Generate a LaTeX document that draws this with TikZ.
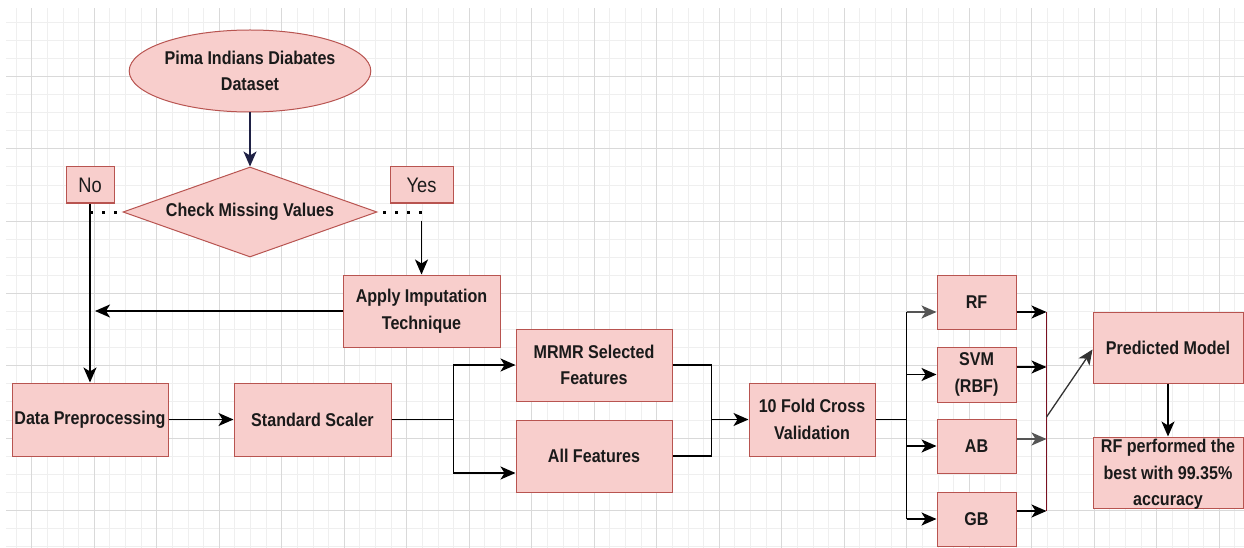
\documentclass[tikz,border=0pt]{standalone}
\usepackage{fontspec}
\setmainfont{Liberation Sans}[FakeStretch=0.87]
\usetikzlibrary{shapes.geometric,arrows.meta,calc}
\definecolor{boxfill}{HTML}{F8CECC}
\definecolor{boxline}{HTML}{B85450}
\definecolor{navyc}{HTML}{1F2145}
\definecolor{maroonc}{HTML}{7A1020}
\definecolor{gmaj}{HTML}{D9D9D9}
\definecolor{gmin}{HTML}{EFEFEF}
\definecolor{txt}{HTML}{1A1A1A}
\definecolor{greyarr}{HTML}{555555}
\begin{document}
\begin{tikzpicture}[x=1pt,y=-1pt,
  box/.style={draw=boxline,fill=boxfill,line width=1pt,inner sep=0pt,align=center,text=txt,font=\fontsize{18.5}{26.5}\selectfont\bfseries},
  lbl/.style={draw=boxline,fill=boxfill,line width=1pt,inner sep=0pt,text=txt,font=\fontsize{21}{24}\selectfont},
  arr/.style={line width=1.7pt,-{Stealth[length=15pt,width=13pt,inset=4pt]}},
  ln/.style={line width=1.7pt},
  dots/.style={line width=3pt,dash pattern=on 3pt off 9pt}]
\useasboundingbox (0,0) rectangle (1244,548);
\fill[white] (0,0) rectangle (1244,548);
% grid
\begin{scope}
\clip (6,9) rectangle (1244,548);
\foreach \k in {-2,...,78} {\draw[gmin,line width=0.8pt] ({31.7+15.625*\k},0) -- ({31.7+15.625*\k},548);}
\foreach \k in {-4,...,27} {\draw[gmin,line width=0.8pt] (0,{76.5+18.075*\k}) -- (1244,{76.5+18.075*\k});}
\foreach \k in {0,...,19} {\draw[gmaj,line width=0.9pt] ({31.7+62.5*\k},0) -- ({31.7+62.5*\k},548);}
\foreach \k in {-1,...,6} {\draw[gmaj,line width=0.9pt] (0,{76.5+72.3*\k}) -- (1244,{76.5+72.3*\k});}
\end{scope}
% nodes
\node[box,ellipse,minimum width=188pt,minimum height=82pt] (ell) at (250,71) {Pima Indians Diabates\\Dataset};
\node[box,diamond,aspect=2.82,minimum width=254pt,minimum height=90pt] (dia) at (250,212) {Check Missing Values};
\node[lbl,minimum width=48pt,minimum height=36pt] (no) at (90,185) {No};
\node[lbl,minimum width=63pt,minimum height=36pt] (yes) at (421.5,185) {Yes};
\node[box,minimum width=157pt,minimum height=72pt] (apply) at (421.5,311) {Apply Imputation\\Technique};
\node[box,minimum width=156pt,minimum height=73pt] (dp) at (90,419.5) {Data Preprocessing};
\node[box,minimum width=157pt,minimum height=73pt] (ss) at (312.5,419.5) {Standard Scaler};
\node[box,minimum width=156pt,minimum height=72pt] (mrmr) at (594,365) {MRMR Selected\\Features};
\node[box,minimum width=156pt,minimum height=72pt] (all) at (594,456) {All Features};
\node[box,minimum width=126pt,minimum height=73pt] (cv) at (812,419.5) {10 Fold Cross\\Validation};
\node[box,minimum width=79pt,minimum height=54pt] (rf) at (976.5,302) {RF};
\node[box,minimum width=79pt,minimum height=55pt] (svm) at (976.5,374.5) {SVM\\(RBF)};
\node[box,minimum width=79pt,minimum height=54pt] (ab) at (976.5,446) {AB};
\node[box,minimum width=79pt,minimum height=54pt] (gb) at (976.5,519) {GB};
\node[box,minimum width=150pt,minimum height=71pt] (pm) at (1168,347.5) {Predicted Model};
\node[box,minimum width=150pt,minimum height=71pt,text depth=0pt] (rfb) at (1168,472.5) {RF performed the\\best with 99.35\%\\accuracy};
% connectors
\draw[arr,navyc] (ell.south) -- (dia.north);
\draw[dots] (no.south |- dia.west) -- (dia.west);
\draw[dots] (yes.south |- dia.east) -- (dia.east);
\draw[arr] (no.south) -- (dp.north);
\coordinate (ystart) at ([yshift=-17pt]yes.south);
\draw[arr] (ystart) -- (apply.north);
\coordinate (imp) at ([xshift=5pt]no.south |- apply.west);
\draw[arr] (apply.west) -- (imp);
\draw[arr] (dp.east) -- (ss.west);
\coordinate (f1) at ($(ss.east)+(62,0)$);
\draw[ln] (ss.east) -- (f1);
\draw[arr] (f1) |- (mrmr.west);
\coordinate (allin) at ([yshift=-17pt]all.west);
\draw[arr] (f1) |- (allin);
\coordinate (m1) at ($(mrmr.east)+(39,0)$);
\coordinate (m2) at (m1 |- all.east);
\coordinate (m3) at (m1 |- cv.west);
\draw[ln] (mrmr.east) -- (m1) -- (m2) -- (all.east);
\draw[arr] (m3) -- (cv.west);
\coordinate (f3) at ($(cv.east)+(31,0)$);
\coordinate (rfin) at ([yshift=-10pt]rf.west);
\draw[ln] (cv.east) -- (f3);
\draw[ln] (f3 |- rfin) -- (f3 |- gb.west);
\draw[arr,greyarr] (f3 |- rfin) -- (rfin);
\draw[arr] (f3 |- svm.west) -- (svm.west);
\draw[arr] (f3 |- ab.west) -- (ab.west);
\draw[arr] (f3 |- gb.west) -- (gb.west);
\coordinate (rfo) at ([yshift=-10pt]rf.east);
\coordinate (svo) at ([yshift=7.5pt]svm.east);
\coordinate (abo) at ([yshift=7pt]ab.east);
\coordinate (gbo) at ([yshift=8pt]gb.east);
\coordinate (j1) at ($(rfo)+(30,0)$);
\coordinate (j4) at (j1 |- gbo);
\draw[maroonc,line width=1.3pt] (j1) -- (j4);
\draw[arr] (rfo) -- (j1);
\draw[arr] (svo) -- (j1 |- svo);
\draw[arr,greyarr] (abo) -- (j1 |- abo);
\draw[arr] (gbo) -- (j4);
\coordinate (dg) at (j1 |- 0,417);
\draw[arr,line width=1.3pt,black!80] (dg) -- ([yshift=-2pt]pm.west);
\draw[arr] (pm.south) -- (rfb.north);
\end{tikzpicture}
\end{document}
